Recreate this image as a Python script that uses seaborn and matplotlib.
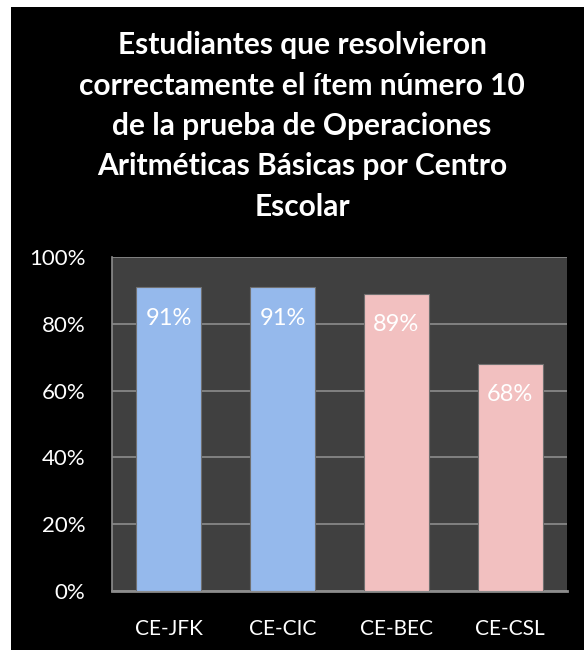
import matplotlib
matplotlib.use("Agg")
import matplotlib.pyplot as plt
import matplotlib.patches as mpatches
from matplotlib.ticker import PercentFormatter
import seaborn as sns
import pandas as pd

# ---- data ----
centros = ["CE-JFK", "CE-CIC", "CE-BEC", "CE-CSL"]
porcentaje = [0.91, 0.91, 0.89, 0.68]
grupo = ["a", "a", "b", "b"]

titulo = ("Estudiantes que resolvieron\n"
          "correctamente el ítem número 10\n"
          "de la prueba de Operaciones\n"
          "Aritméticas Básicas por Centro\n"
          "Escolar")

df = pd.DataFrame({"Centro": centros, "Porcentaje": porcentaje, "Grupo": grupo})

sns.set_style("dark")
plt.rcParams["font.family"] = ["Lato", "DejaVu Sans"]

fig = plt.figure(figsize=(5.84, 6.5), dpi=100, facecolor="white")
# black panel behind the chart (thin white strip left/top like the original)
fig.patches.append(mpatches.Rectangle((11 / 584, 0), 1, 1 - 7 / 650,
                                      transform=fig.transFigure,
                                      facecolor="black", edgecolor="none", zorder=-5))

ax = fig.add_axes([112 / 584, 59 / 650, 455 / 584, 334 / 650])
ax.set_facecolor("#404040")

colores = {"a": "#95b9ec", "b": "#f2c0c0"}
sns.barplot(data=df, x="Centro", y="Porcentaje", hue="Grupo", palette=colores,
            saturation=1, dodge=False, legend=False, width=0.57, ax=ax,
            edgecolor="#707070", linewidth=0.8, zorder=3)

ax.set_ylim(0, 1)
ax.set_xlim(-0.5, 3.5)
ax.yaxis.set_major_formatter(PercentFormatter(1.0, decimals=0))
ax.set_yticks([0, 0.2, 0.4, 0.6, 0.8, 1.0])
ax.grid(axis="y", color="#8c8c8c", linewidth=1.2, zorder=1)
ax.grid(axis="x", visible=False)
ax.set_xlabel("")
ax.set_ylabel("")
ax.tick_params(axis="y", colors="white", labelsize=16, pad=19, length=0)
ax.tick_params(axis="x", colors="white", labelsize=15, pad=20, length=0)

for s in ["top", "right"]:
    ax.spines[s].set_visible(False)
ax.spines["left"].set_color("#8c8c8c")
ax.spines["left"].set_linewidth(1.2)
ax.spines["bottom"].set_color("#8c8c8c")
ax.spines["bottom"].set_linewidth(2)

for i, v in enumerate(porcentaje):
    ax.text(i, v - 0.093, f"{v:.0%}", ha="center", va="center",
            color="white", fontsize=17, zorder=4)

fig.text(302 / 584, 1 - 126 / 650, titulo, ha="center", va="center",
         color="white", fontsize=21.5, fontweight="bold", linespacing=1.54)

fig.savefig("out.png", dpi=100, facecolor=fig.get_facecolor())
